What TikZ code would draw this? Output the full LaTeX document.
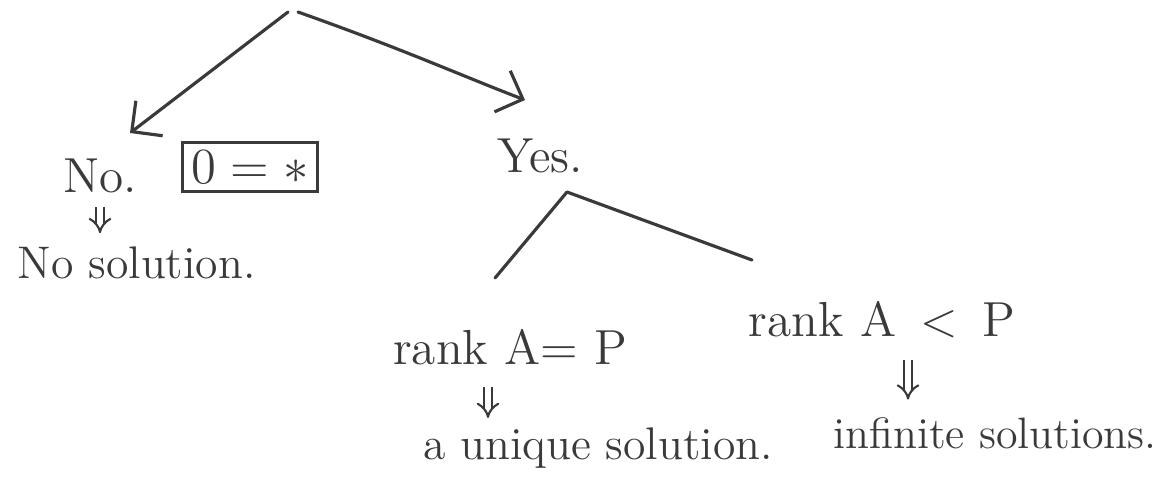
\documentclass[tikz,border=0pt]{standalone}
\usetikzlibrary{arrows.meta}
\definecolor{ink}{HTML}{3A3A3A}
\tikzset{
  inkline/.style={draw=ink, line width=0.9pt, line cap=round},
  branch/.style={inkline, -{Straight Barb[length=2.2mm,width=4.4mm]}},
  txt/.style={text=ink, inner sep=2pt, font=\fontsize{13}{15}\selectfont},
  bigtxt/.style={text=ink, inner sep=2pt, font=\fontsize{14}{17}\selectfont},
  boxed/.style={draw=ink, line width=0.9pt, text=ink, font=\fontsize{15}{18}\selectfont, minimum width=1.35cm, minimum height=0.49cm, inner sep=0pt},
  hence/.style={draw=ink, double=white, double distance=1.6pt, line width=0.6pt, -{Implies}}
}
\begin{document}
\begin{tikzpicture}[x=0.01cm,y=-0.01cm]
\useasboundingbox (0,0) rectangle (1164,496);
% root
\coordinate (root) at (293,12);
\node[bigtxt] (no) at (100,176) {No.};
\node[boxed] (box) at (250,167) {$0 = *$};
\node[txt, anchor=west] (nosol) at (10,263) {No solution.};
\node[bigtxt] (yes) at (540,156) {Yes.};
\coordinate (apex) at (567,192);
\coordinate (leftend) at (495,278);
\coordinate (rightend) at (752,260);
\node[bigtxt] (rankeq) at (510,347) {rank A= P};
\node[bigtxt] (ranklt) at (882,320) {rank A \,<\, P};
\node[txt] (unique) at (598,448) {a unique solution.};
\node[txt, font=\fontsize{12.5}{15}\selectfont] (infinite) at (995,433) {infinite solutions.};
% connectors
\draw[branch] ([xshift=-0.05cm]root) -- (130,133);
\draw[branch] ([xshift=0.05cm]root) .. controls (400,48) and (460,75) .. (525,100);
\draw[inkline] (apex) -- (leftend);
\draw[inkline] (apex) -- (rightend);
% therefore arrows
\draw[hence, shorten <=0.06cm, shorten >=0.06cm] (no.south) -- (no.south |- nosol.north);
\draw[hence, shorten <=0.14cm, shorten >=0.02cm] ([xshift=-0.22cm]rankeq.south) -- ([xshift=-0.22cm]rankeq.south |- unique.north);
\draw[hence, shorten <=0.14cm, shorten >=0.1cm] ([xshift=0.26cm]ranklt.south) -- ([xshift=0.26cm]ranklt.south |- infinite.north);
\end{tikzpicture}
\end{document}
